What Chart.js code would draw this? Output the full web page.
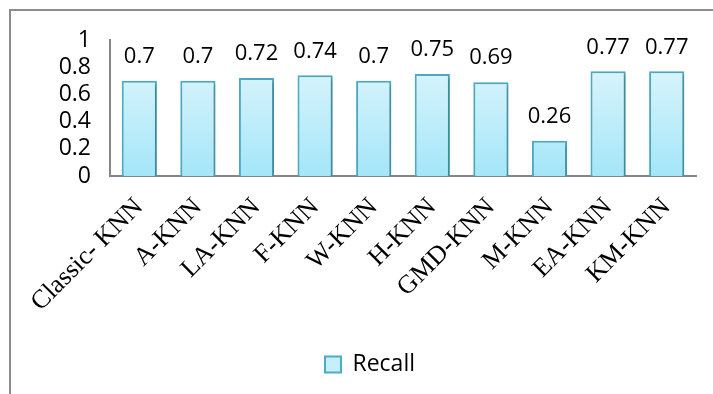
<!DOCTYPE html>
<html>
<head>
<meta charset="utf-8">
<script src="https://cdn.jsdelivr.net/npm/chart.js@4/dist/chart.umd.min.js"></script>
<style>
  html, body { margin: 0; padding: 0; background: #fff; }
  #wrap { width: 713px; height: 394px; position: relative; }
</style>
</head>
<body>
<div id="wrap"><canvas id="c" width="713" height="394"></canvas></div>
<script>
// Recall of each KNN variant
const categories = ['Classic- KNN', 'A-KNN', 'LA-KNN', 'F-KNN', 'W-KNN', 'H-KNN', 'GMD-KNN', 'M-KNN', 'EA-KNN', 'KM-KNN'];
const recall = [0.7, 0.7, 0.72, 0.74, 0.7, 0.75, 0.69, 0.26, 0.77, 0.77];
const seriesName = 'Recall';
const yTicks = [0, 0.2, 0.4, 0.6, 0.8, 1];

const sansFont = "'Open Sans', 'Noto Sans', sans-serif";
const serifFont = "'Liberation Serif', 'DejaVu Serif', serif";

// light-to-cyan vertical gradient for the bars
function barGradient(ctx) {
  const chart = ctx.chart;
  const area = chart.chartArea;
  if (!area) return '#c8f0fb';
  const g = chart.ctx.createLinearGradient(0, area.top, 0, area.bottom);
  g.addColorStop(0, '#e6f8fd');
  g.addColorStop(1, '#a4e6f8');
  return g;
}

// outer frame of the chart box
const framePlugin = {
  id: 'frame',
  beforeDraw(chart) {
    const c = chart.ctx;
    c.save();
    c.strokeStyle = '#8c8c8c';
    c.lineWidth = 2;
    c.beginPath();
    c.moveTo(10, 394);
    c.lineTo(10, 10);
    c.lineTo(713, 10);
    c.stroke();
    c.restore();
  }
};

// soft shadow behind the bars
const shadowPlugin = {
  id: 'barShadow',
  beforeDatasetsDraw(chart) {
    const c = chart.ctx;
    c.save();
    c.shadowColor = 'rgba(0,0,0,0.25)';
    c.shadowBlur = 4;
    c.shadowOffsetX = 2;
    c.shadowOffsetY = 2;
  },
  afterDatasetsDraw(chart) {
    chart.ctx.restore();
  }
};

// value labels above each bar
const valueLabels = {
  id: 'valueLabels',
  afterDatasetsDraw(chart) {
    const c = chart.ctx;
    const meta = chart.getDatasetMeta(0);
    const data = chart.data.datasets[0].data;
    c.save();
    c.fillStyle = '#000';
    c.font = '22px ' + sansFont;
    c.textAlign = 'center';
    c.textBaseline = 'middle';
    meta.data.forEach((bar, i) => {
      c.fillText(String(data[i]), bar.x, bar.y - 24);
    });
    c.restore();
  }
};

new Chart(document.getElementById('c'), {
  type: 'bar',
  data: {
    labels: categories,
    datasets: [{
      label: seriesName,
      data: recall,
      backgroundColor: barGradient,
      borderColor: '#4bacc6',
      borderWidth: 2,
      barPercentage: 0.6,
      categoryPercentage: 1
    }]
  },
  options: {
    responsive: false,
    animation: false,
    layout: { padding: { left: 44, right: 17, top: 40, bottom: 8 } },
    scales: {
      x: {
        grid: { display: false, drawTicks: false },
        border: { display: true, color: '#868686', width: 2 },
        ticks: {
          color: '#000',
          font: { family: serifFont, size: 26 },
          minRotation: 45,
          maxRotation: 45,
          autoSkip: false,
          padding: 16
        },
        afterFit(scale) { scale.height = 169; }
      },
      y: {
        min: 0,
        max: 1,
        grid: { display: false, drawTicks: false },
        border: { display: true, color: '#868686', width: 2 },
        afterBuildTicks(scale) { scale.ticks = yTicks.map(v => ({ value: v })); },
        ticks: {
          color: '#000',
          font: { family: sansFont, size: 23 },
          padding: 19,
          autoSkip: false,
          callback: v => String(v)
        },
        afterFit(scale) { scale.width = 66; }
      }
    },
    plugins: {
      legend: {
        position: 'bottom',
        labels: {
          color: '#000',
          font: { family: sansFont, size: 23 },
          boxWidth: 16,
          boxHeight: 16,
          padding: 8,
          generateLabels(chart) {
            return [{
              text: seriesName,
              fillStyle: '#c4effb',
              strokeStyle: '#4bacc6',
              lineWidth: 2,
              hidden: false,
              datasetIndex: 0
            }];
          }
        }
      },
      tooltip: { enabled: false }
    }
  },
  plugins: [framePlugin, shadowPlugin, valueLabels]
});
</script>
</body>
</html>
